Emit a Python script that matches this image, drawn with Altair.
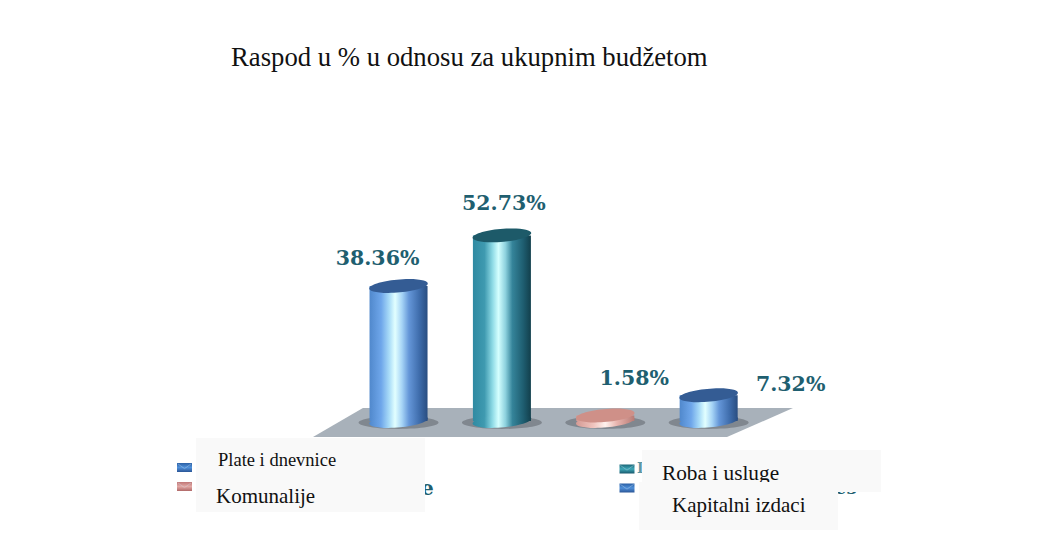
import altair as alt

# ---- chart values -------------------------------------------------------
title_text = "Raspod u % u odnosu za ukupnim budžetom"
categories = ["Plate i dnevnice", "Roba i usluge", "Komunalije", "Kapitalni izdaci"]
values = [38.36, 52.73, 1.58, 7.32]
labels = ["38.36%", "52.73%", "1.58%", "7.32%"]

# ---- styling ------------------------------------------------------------
def px(v):            # page pixel -> chart pixel (8px page margin)
    return v - 8

def grad(stops, vertical=False):
    return alt.Gradient(
        gradient="linear", x1=0, y1=0,
        x2=0 if vertical else 1, y2=1 if vertical else 0,
        stops=[alt.GradientStop(offset=o, color=c) for o, c in stops],
    )

BLUE = [(0, "#5088cc"), (0.2, "#6ea6ea"), (0.34, "#a9dcf8"), (0.44, "#e2ffff"),
        (0.56, "#a6d4f6"), (0.68, "#6496d8"), (0.86, "#3e6cab"), (1, "#294d80")]
TEAL = [(0, "#2f8aa2"), (0.2, "#3f9ab0"), (0.34, "#8fdbe6"), (0.44, "#d4ffff"),
        (0.56, "#8ed2de"), (0.68, "#35849a"), (0.86, "#1f5f72"), (1, "#123f4c")]
RED = [(0, "#d49a94"), (0.3, "#f0c4be"), (0.5, "#fff2ee"), (0.7, "#e8b4ae"), (1, "#b87a74")]
cyl_fill = [BLUE, TEAL, RED, BLUE]
cap_fill = ["#345c94", "#1d5a69", "#cf9088", "#345c94"]
label_dx = [-21, 2, 29, 82]
label_dy = [-27, -31, -36, -10]
label_color = "#1f5f70"

ELLIPSE = "M-1,0.05 A1,0.22 -5 1 1 1,-0.05 A1,0.22 -5 1 1 -1,0.05 Z"
SHADOW = "M-1,0.04 A1,0.16 0 1 1 1,0.04 A1,0.16 0 1 1 -1,0.04 Z"
FLOOR = "M-0.792,-0.06 L1,-0.06 L0.725,0.06 L-1,0.06 Z"
BOX = "M-1,-0.6 L1,-0.6 L1,0.6 L-1,0.6 Z"
FLAP = "M-0.9,-0.5 L0,0.15 L0.9,-0.5"

x_scale = alt.Scale(type="band", domain=categories, range=[px(346.85), px(760.35)],
                    paddingInner=0, paddingOuter=0)
y_scale = alt.Scale(domain=[0, 100], range=[px(421), px(69)])
X = alt.X("cat:N", scale=x_scale, axis=None)
Y = alt.Y("val:Q", scale=y_scale, axis=None)

blank = alt.Data(values=[{"k": 0}])

def rows(i):
    return alt.Data(values=[{"cat": categories[i], "val": values[i], "zero": 0, "label": labels[i]}])

def text(s, x, y, size, font="Liberation Serif", color="#111111", weight="normal", align="left"):
    return alt.Chart(blank).mark_text(
        text=s, font=font, fontSize=size, color=color, fontWeight=weight,
        align=align, baseline="middle",
    ).encode(x=alt.value(px(x)), y=alt.value(px(y)))

def rect(x1, y1, x2, y2, color):
    return alt.Chart(blank).mark_rect(fill=color, opacity=1).encode(
        x=alt.value(px(x1)), x2=alt.value(px(x2)), y=alt.value(px(y1)), y2=alt.value(px(y2)))

def symbol(shape, x, y, r, fill):
    return alt.Chart(blank).mark_point(
        shape=shape, size=(2 * r) ** 2, filled=True, fill=fill, opacity=1, strokeWidth=0,
    ).encode(x=alt.value(px(x)), y=alt.value(px(y)))

def flap(x, y, r):
    return alt.Chart(blank).mark_point(
        shape=FLAP, size=(2 * r) ** 2, filled=False, stroke="#cfe4f4", strokeWidth=0.8, opacity=0.45,
    ).encode(x=alt.value(px(x)), y=alt.value(px(y)))

layers = [symbol(FLOOR, 553, 422.5, 240, "#a8b1ba")]

for i in range(4):
    d = rows(i)
    layers.append(alt.Chart(d).mark_point(
        shape=SHADOW, size=80 ** 2, filled=True, fill="#80878f", opacity=1, strokeWidth=0,
    ).encode(x=X, y=alt.Y("zero:Q", scale=y_scale, axis=None)))
    layers.append(alt.Chart(d).mark_bar(size=58, fill=grad(cyl_fill[i]), opacity=1).encode(
        x=X, y=Y, y2=alt.Y2("zero:Q")))
    layers.append(alt.Chart(d).mark_point(
        shape=ELLIPSE, size=58 ** 2, filled=True, fill=grad(cyl_fill[i]), opacity=1, strokeWidth=0,
    ).encode(x=X, y=alt.Y("zero:Q", scale=y_scale, axis=None)))
    layers.append(alt.Chart(d).mark_point(
        shape=ELLIPSE, size=58 ** 2, filled=True, fill=cap_fill[i], opacity=1, strokeWidth=0,
    ).encode(x=X, y=Y))
    layers.append(alt.Chart(d).mark_text(
        font="DejaVu Serif", fontWeight="bold", fontSize=20.5, color=label_color,
        dx=label_dx[i], dy=label_dy[i], baseline="middle", align="center",
    ).encode(x=X, y=Y, text="label:N"))

# legend swatches
swatches = [(184.5, 467.5), (184.5, 486.5), (627, 469), (627, 488)]
swatch_v = [
    [(0, "#2a5fa4"), (0.5, "#4f90da"), (1, "#2a5596")],
    [(0, "#c07676"), (0.5, "#e2a8a4"), (1, "#b06868")],
    [(0, "#1a6678"), (0.5, "#3fa8b8"), (1, "#17586c")],
    [(0, "#2a5fa4"), (0.5, "#4f90da"), (1, "#2a5596")],
]
for (sx, sy), stops in zip(swatches, swatch_v):
    layers.append(symbol(BOX, sx, sy, 7.5, grad(stops, vertical=True)))
    layers.append(flap(sx, sy, 7.5))

# fragments of the covered legend
layers.append(text("e", 421, 489, 20, font="DejaVu Serif", color=label_color, weight="bold"))
layers.append(text("I", 637, 469, 14, font="DejaVu Serif", color="#5f96a4", weight="bold"))
layers.append(text("es", 835, 489, 18, font="DejaVu Serif", color=label_color, weight="bold"))

# title
layers.append(text(title_text, 231, 58, 26.7))

# overlay boxes and their text
layers.append(rect(196, 438, 425, 512, "#f9f9f9"))
layers.append(text(categories[0], 218, 460, 18.5))
layers.append(text(categories[2], 216, 497, 21))
layers.append(rect(190, 512, 430, 524, "#ffffff"))
layers.append(rect(642, 450, 881, 492, "#f9f9f9"))
layers.append(text(categories[1], 662, 474, 21.3))
layers.append(rect(639, 482, 838, 530, "#f9f9f9"))
layers.append(text(categories[3], 672, 506, 21))

chart = alt.layer(*layers).properties(
    width=1027, height=524, padding=0,
    autosize=alt.AutoSizeParams(type="none"),
    background="#ffffff",
).configure_view(stroke=None)

chart.save("out.html", embed_options={"renderer": "svg", "actions": False})
